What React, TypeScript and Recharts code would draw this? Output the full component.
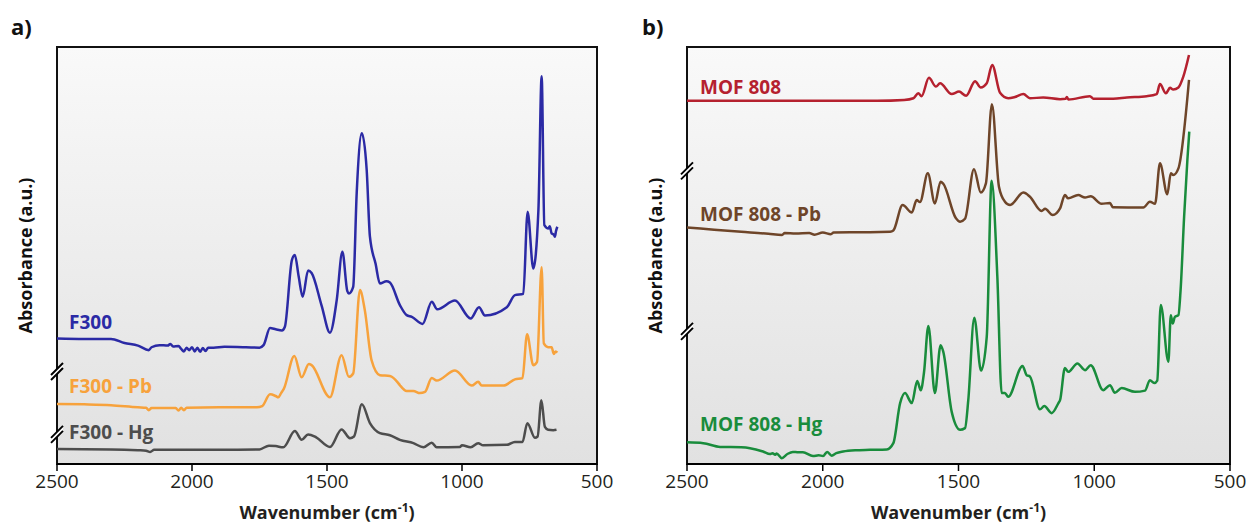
import React from 'react';
import { LineChart, Line, XAxis, YAxis, ReferenceArea, ReferenceDot, CartesianGrid } from 'recharts';

type P = [number, number];

const xTicks = [2500, 2000, 1500, 1000, 500];

// Panel a) F300 series: [wavenumber, absorbance (a.u., stacked)]
const f300: P[] = [
  [2500, 30.1], [2400, 30.0], [2300, 30.0], [2250, 29.0], [2200, 28.4], [2160, 27.3], [2150, 28.0],
  [2120, 28.5], [2090, 28.4], [2080, 28.8], [2070, 28.2], [2050, 28.3], [2040, 27.6], [2030, 27.0],
  [2020, 27.9], [2010, 27.3], [2000, 28.0], [1990, 27.0], [1980, 27.9], [1970, 26.9], [1960, 27.8],
  [1950, 27.1], [1940, 27.9], [1920, 27.9], [1880, 28.1], [1800, 28.0], [1750, 27.9], [1735, 28.5],
  [1711, 32.6], [1690, 32.3], [1667, 32.0], [1656, 32.9], [1630, 48.9], [1619, 50.1], [1605, 45.0],
  [1590, 40.1], [1570, 46.4], [1557, 45.8], [1520, 38.0], [1489, 31.5], [1464, 39.3], [1443, 50.9],
  [1425, 41.5], [1419, 40.9], [1403, 42.5], [1390, 65.0], [1371, 79.3], [1353, 70.5], [1341, 54.5],
  [1320, 48.0], [1304, 43.3], [1280, 43.8], [1267, 43.5], [1230, 38.1], [1205, 35.7], [1186, 35.3],
  [1146, 33.6], [1112, 38.9], [1092, 37.1], [1026, 39.2], [968, 34.9], [937, 37.6], [915, 35.6],
  [834, 37.6], [804, 40.5], [773, 40.8], [757, 60.5], [736, 46.9], [717, 60.9], [705, 93.0],
  [695, 57.3], [680, 56.5], [675, 57.0], [668, 55.3], [660, 55.0], [656, 54.5], [652, 55.8], [647, 56.9],
];

const f300Pb: P[] = [
  [2500, 14.4], [2400, 14.3], [2300, 14.1], [2200, 13.6], [2170, 13.5], [2160, 12.9], [2150, 13.4],
  [2060, 13.4], [2050, 12.8], [2040, 13.5], [2030, 12.9], [2020, 13.5], [1900, 13.6], [1760, 13.6],
  [1740, 13.9], [1711, 16.7], [1690, 16.3], [1680, 16.0], [1670, 17.0], [1660, 18.0], [1621, 25.9],
  [1594, 20.8], [1567, 24.0], [1557, 23.7], [1489, 16.0], [1446, 26.1], [1419, 20.9], [1403, 21.7],
  [1378, 41.7], [1360, 36.9], [1335, 24.9], [1304, 21.3], [1267, 21.1], [1236, 19.4], [1230, 18.9],
  [1205, 17.5], [1180, 17.5], [1156, 17.0], [1137, 17.3], [1112, 20.6], [1094, 20.0], [1026, 22.4],
  [964, 18.8], [940, 19.7], [927, 18.8], [846, 18.8], [804, 20.3], [776, 20.6], [759, 31.1],
  [736, 23.7], [722, 24.5], [705, 47.2], [697, 28.9], [681, 28.0], [668, 28.0], [660, 26.4],
  [653, 27.0], [647, 26.7],
];

const f300Hg: P[] = [
  [2500, 3.6], [2300, 3.5], [2200, 3.3], [2170, 3.2], [2155, 2.9], [2140, 3.4], [1900, 3.4],
  [1750, 3.5], [1715, 4.4], [1690, 4.3], [1662, 4.0], [1619, 7.9], [1594, 5.8], [1570, 7.1],
  [1540, 6.4], [1489, 4.1], [1446, 8.3], [1415, 6.2], [1400, 6.6], [1371, 14.3], [1341, 9.8],
  [1304, 7.4], [1267, 6.9], [1230, 5.8], [1180, 5.0], [1143, 4.0], [1112, 5.1], [1094, 4.0],
  [1008, 4.1], [1000, 4.5], [968, 4.0], [940, 5.0], [922, 4.5], [834, 4.6], [804, 5.3], [776, 5.3],
  [758, 9.8], [730, 6.3], [720, 6.6], [706, 15.3], [693, 8.9], [681, 8.2], [662, 8.1], [650, 8.2],
];

// Panel b) MOF 808 series
const mof808: P[] = [
  [2500, 87.1], [2000, 87.1], [1800, 87.1], [1700, 87.3], [1666, 87.7], [1648, 88.9], [1636, 88.2],
  [1609, 92.6], [1583, 90.5], [1568, 91.3], [1525, 88.7], [1498, 89.3], [1472, 88.3], [1439, 91.8],
  [1418, 90.3], [1396, 91.3], [1376, 95.7], [1347, 89.0], [1317, 87.7], [1292, 88.0], [1261, 88.7],
  [1237, 87.7], [1188, 87.9], [1126, 87.5], [1105, 87.6], [1101, 88.0], [1095, 87.4], [1016, 88.2],
  [1003, 87.6], [930, 87.6], [880, 87.9], [807, 88.2], [770, 88.7], [758, 91.1], [736, 88.9],
  [721, 90.2], [709, 89.8], [690, 90.3], [672, 92.9], [651, 98.1],
];

const mof808Pb: P[] = [
  [2500, 56.7], [2400, 56.2], [2300, 55.7], [2200, 55.2], [2150, 54.9], [2140, 55.4], [2100, 55.3],
  [2050, 55.4], [2030, 55.0], [2000, 55.5], [1970, 55.1], [1960, 55.5], [1900, 55.6], [1826, 55.6],
  [1752, 55.7], [1740, 56.0], [1706, 62.1], [1672, 60.3], [1654, 63.3], [1642, 62.8], [1613, 69.7],
  [1587, 62.5], [1566, 67.7], [1556, 67.2], [1510, 59.0], [1494, 58.1], [1476, 58.8], [1443, 70.7],
  [1418, 65.1], [1399, 67.3], [1377, 86.3], [1351, 66.5], [1329, 62.9], [1310, 62.1], [1261, 65.1],
  [1237, 64.1], [1194, 60.7], [1181, 61.2], [1153, 59.7], [1126, 61.3], [1108, 64.5], [1096, 63.7],
  [1059, 64.5], [1034, 63.9], [1013, 64.2], [973, 62.4], [942, 62.6], [932, 61.6], [819, 61.5],
  [795, 62.9], [776, 62.4], [758, 72.1], [731, 64.7], [718, 69.7], [709, 69.3], [690, 70.9], [651, 92.1],
];

const mof808Hg: P[] = [
  [2500, 5.2], [2440, 5.0], [2378, 4.1], [2300, 4.0], [2268, 3.8], [2220, 3.0], [2194, 2.4],
  [2185, 2.6], [2175, 2.2], [2170, 2.5], [2151, 1.4], [2130, 2.4], [2110, 2.9], [2090, 2.8],
  [2073, 2.8], [2036, 1.9], [2015, 2.1], [1999, 1.9], [1984, 2.9], [1967, 2.0], [1950, 2.6],
  [1925, 3.0], [1880, 3.3], [1826, 3.4], [1764, 3.5], [1740, 5.0], [1715, 14.6], [1697, 17.0],
  [1672, 14.6], [1652, 19.9], [1639, 17.7], [1627, 22.0], [1611, 33.1], [1587, 17.0], [1566, 28.5],
  [1556, 26.9], [1525, 12.5], [1494, 8.2], [1476, 8.6], [1464, 15.3], [1442, 35.1], [1417, 22.4],
  [1396, 30.5], [1378, 67.9], [1357, 45.0], [1341, 17.0], [1329, 17.0], [1317, 16.1], [1264, 23.5],
  [1249, 21.3], [1237, 21.0], [1200, 13.1], [1184, 13.9], [1157, 12.2], [1132, 14.6], [1126, 15.3],
  [1108, 23.0], [1096, 22.1], [1062, 24.1], [1034, 22.5], [1013, 23.7], [967, 17.7], [942, 18.9],
  [924, 17.1], [899, 18.2], [850, 17.3], [813, 17.6], [795, 20.1], [779, 19.4], [768, 20.0],
  [755, 38.1], [727, 24.5], [718, 35.7], [711, 33.7], [703, 35.3], [690, 35.7], [682, 41.7],
  [669, 59.3], [657, 72.9], [650, 79.7],
];

const breaksA = [22.2, 7.1];
const breaksB = [70.3, 31.8];

const seriesNamesA = ['F300', 'F300 - Pb', 'F300 - Hg'];
const seriesNamesB = ['MOF 808', 'MOF 808 - Pb', 'MOF 808 - Hg'];

const FONT = '"Open Sans", "DejaVu Sans", sans-serif';

const toRows = (pts: P[]) => pts.map(([w, a]) => ({ w, a }));

const BreakMark = (props: any) => {
  const { cx, cy } = props;
  if (cx == null || cy == null) return null;
  return (
    <g>
      <polygon
        points={`${cx - 6},${cy + 3.5} ${cx + 6},${cy - 8.5} ${cx + 6},${cy - 3.5} ${cx - 6},${cy + 8.5}`}
        fill="#ffffff"
      />
      <line x1={cx - 6} y1={cy + 3.5} x2={cx + 6} y2={cy - 8.5} stroke="#000" strokeWidth={2} />
      <line x1={cx - 6} y1={cy + 8.5} x2={cx + 6} y2={cy - 3.5} stroke="#000" strokeWidth={2} />
    </g>
  );
};

type Series = { name: string; pts: P[]; color: string; labelY: number };

type PanelProps = {
  id: string;
  left: number;
  width: number;
  mLeft: number;
  mRight: number;
  letter: string;
  letterX: number;
  yTitleX: number;
  labelX: number;
  series: Series[];
  breaks: number[];
};

const TOP = 47;
const HEIGHT = 526;
const XAXIS_H = 62;

function Panel(p: PanelProps) {
  const plotCenterX = p.mLeft + (p.width - p.mLeft - p.mRight) / 2;
  const plotCenterY = TOP + (HEIGHT - TOP - XAXIS_H) / 2;
  return (
    <div style={{ position: 'absolute', left: p.left, top: 0, width: p.width, height: HEIGHT }}>
      <LineChart
        width={p.width}
        height={HEIGHT}
        margin={{ top: TOP, right: p.mRight, bottom: 0, left: p.mLeft }}
        style={{ fontFamily: FONT }}
      >
        <defs>
          <linearGradient id={p.id} x1="0" y1="0" x2="0" y2="1">
            <stop offset="0%" stopColor="#f9f9f9" />
            <stop offset="100%" stopColor="#e1e1e1" />
          </linearGradient>
        </defs>
        <CartesianGrid horizontal={false} vertical={false} fill={`url(#${p.id})`} fillOpacity={1} />
        <XAxis
          type="number"
          dataKey="w"
          domain={[500, 2500]}
          reversed
          allowDataOverflow
          ticks={xTicks}
          interval={0}
          height={XAXIS_H}
          axisLine={{ stroke: '#000', strokeWidth: 2 }}
          tickLine={{ stroke: '#000', strokeWidth: 1.5 }}
          tickSize={7}
          tickMargin={4}
          tick={{ fill: '#231f20', fontSize: 19, fontFamily: FONT }}
        />
        <YAxis type="number" domain={[0, 100]} hide allowDataOverflow />
        <ReferenceArea
          x1={2500}
          x2={500}
          y1={0}
          y2={100}
          fill="none"
          fillOpacity={0}
          stroke="#111"
          strokeWidth={2}
          ifOverflow="visible"
        />
        {p.series.map((s) => (
          <Line
            key={s.name}
            data={toRows(s.pts)}
            dataKey="a"
            type="monotone"
            stroke={s.color}
            strokeWidth={2.5}
            dot={false}
            activeDot={false}
            isAnimationActive={false}
          />
        ))}
        {p.breaks.map((b, i) => (
          <ReferenceDot key={i} x={2500} y={b} r={0} ifOverflow="visible" shape={BreakMark} />
        ))}
        <text x={p.letterX} y={35} fontSize={22} fontWeight={700} fontFamily={FONT} fill="#111">
          {p.letter}
        </text>
        <text
          x={p.yTitleX}
          y={plotCenterY}
          transform={`rotate(-90 ${p.yTitleX} ${plotCenterY})`}
          textAnchor="middle"
          dominantBaseline="central"
          fontSize={18}
          fontWeight={700}
          fontFamily={FONT}
          fill="#111"
        >
          Absorbance (a.u.)
        </text>
        <text
          x={plotCenterX}
          y={519}
          textAnchor="middle"
          fontSize={18}
          fontWeight={700}
          fontFamily={FONT}
          fill="#231f20"
        >
          Wavenumber (cm
          <tspan dy={-7} fontSize={12}>-1</tspan>
          <tspan dy={7}>)</tspan>
        </text>
        {p.series.map((s) => (
          <text
            key={'lbl' + s.name}
            x={p.labelX}
            y={s.labelY}
            fontSize={19}
            fontWeight={700}
            fontFamily={FONT}
            fill={s.color}
          >
            {s.name}
          </text>
        ))}
      </LineChart>
    </div>
  );
}

export default function App() {
  const seriesA: Series[] = [
    { name: seriesNamesA[0], pts: f300, color: '#2b2aa5', labelY: 328.5 },
    { name: seriesNamesA[1], pts: f300Pb, color: '#f7a23c', labelY: 392.5 },
    { name: seriesNamesA[2], pts: f300Hg, color: '#4d4d4d', labelY: 439 },
  ];
  const seriesB: Series[] = [
    { name: seriesNamesB[0], pts: mof808, color: '#b5212f', labelY: 93.5 },
    { name: seriesNamesB[1], pts: mof808Pb, color: '#6e4529', labelY: 221 },
    { name: seriesNamesB[2], pts: mof808Hg, color: '#198c3c', labelY: 431 },
  ];
  return (
    <div style={{ position: 'absolute', left: 0, top: 0, width: 1252, height: 526, background: '#fff' }}>
      <Panel
        id="bgA"
        left={0}
        width={626}
        mLeft={57}
        mRight={29}
        letter="a)"
        letterX={11}
        yTitleX={25}
        labelX={69}
        series={seriesA}
        breaks={breaksA}
      />
      <Panel
        id="bgB"
        left={626}
        width={626}
        mLeft={61}
        mRight={22}
        letter="b)"
        letterX={16}
        yTitleX={29}
        labelX={74}
        series={seriesB}
        breaks={breaksB}
      />
    </div>
  );
}
